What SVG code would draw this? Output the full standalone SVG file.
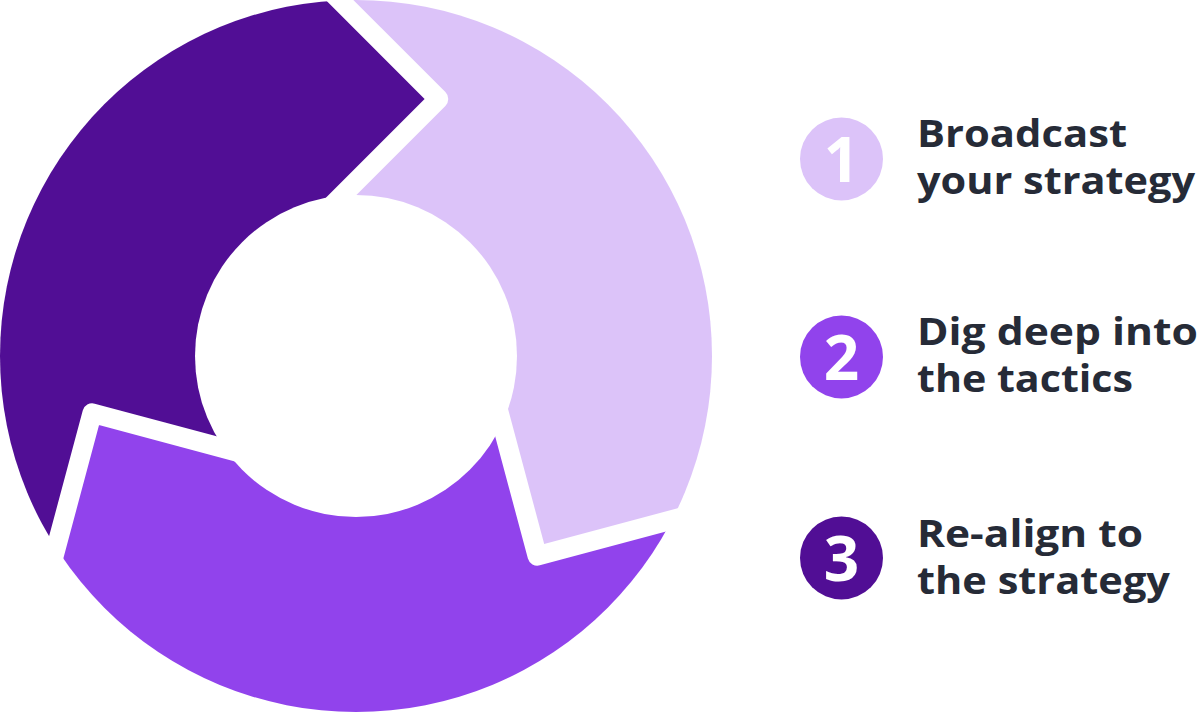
<svg xmlns="http://www.w3.org/2000/svg" width="1201" height="713" viewBox="0 0 1201 713">
  <style>
    .light { fill: #dcc3f9; }
    .mid { fill: #9143ec; }
    .dark { fill: #510e95; }
    .num { font-family: "Open Sans", "Liberation Sans", sans-serif; font-weight: 700; font-size: 62px; fill: #ffffff; text-anchor: middle; }
    .lbl { font-family: "Open Sans", "Liberation Sans", sans-serif; font-weight: 700; font-size: 37.5px; fill: #262b37; }
  </style>
  <defs>
    <path id="seg" d="M278.5,-61 L438.5,99 L318.5,219 L356,356 L493.4,392 L537.3,556 L755.9,497.4 L1000,300 L800,-300 Z"/>
    <polyline id="gap" points="278.5,-61 438.5,99 318.5,219" fill="none" stroke="#000" stroke-width="19.5" stroke-linejoin="round"/>
    <mask id="ring" maskUnits="userSpaceOnUse" x="0" y="0" width="1201" height="713">
      <rect x="0" y="0" width="1201" height="713" fill="#000"/>
      <circle cx="356" cy="356" r="356" fill="#fff"/>
      <circle cx="356" cy="356" r="161" fill="#000"/>
      <use href="#gap"/>
      <use href="#gap" transform="rotate(120 356 356)"/>
      <use href="#gap" transform="rotate(240 356 356)"/>
    </mask>
  </defs>
  <rect x="0" y="0" width="1201" height="713" fill="#ffffff"/>
  <g id="cycle" mask="url(#ring)">
    <g id="segment-1"><use href="#seg" class="light"/></g>
    <g id="segment-2"><use href="#seg" class="mid" transform="rotate(120 356 356)"/></g>
    <g id="segment-3"><use href="#seg" class="dark" transform="rotate(240 356 356)"/></g>
  </g>
  <g id="connectors"></g>
  <g id="step-1">
    <circle cx="841.5" cy="159" r="41.5" class="light"/>
    <text x="841.5" y="181.5" class="num">1</text>
    <text class="lbl"><tspan x="917" y="147" textLength="210" lengthAdjust="spacingAndGlyphs">Broadcast</tspan><tspan x="917" y="194" textLength="278" lengthAdjust="spacingAndGlyphs">your strategy</tspan></text>
  </g>
  <g id="step-2">
    <circle cx="841.5" cy="357" r="41.5" class="mid"/>
    <text x="841.5" y="380" class="num">2</text>
    <text class="lbl"><tspan x="917" y="345" textLength="281" lengthAdjust="spacingAndGlyphs">Dig deep into</tspan><tspan x="917" y="392" textLength="216" lengthAdjust="spacingAndGlyphs">the tactics</tspan></text>
  </g>
  <g id="step-3">
    <circle cx="841.5" cy="558" r="41.5" class="dark"/>
    <text x="841.5" y="580.5" class="num">3</text>
    <text class="lbl"><tspan x="917" y="546.5" textLength="226" lengthAdjust="spacingAndGlyphs">Re-align to</tspan><tspan x="917" y="594" textLength="253" lengthAdjust="spacingAndGlyphs">the strategy</tspan></text>
  </g>
</svg>
